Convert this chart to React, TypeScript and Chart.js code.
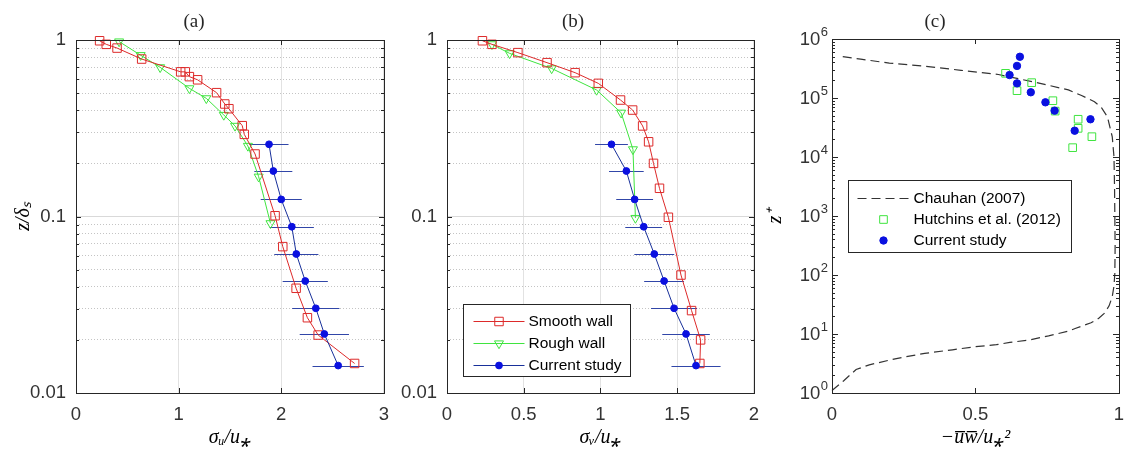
import React, { useEffect, useRef } from "react";
import { Chart, registerables } from "chart.js";

Chart.register(...registerables);

// ---------- Panel (a): sigma_u / u* ----------
const smoothAX = [0.23, 0.295, 0.40, 0.64, 1.02, 1.065, 1.105, 1.185, 1.37, 1.45, 1.49, 1.62, 1.64, 1.745, 1.94, 2.015, 2.145, 2.255, 2.36, 2.715];
const smoothAZ = [0.99, 0.945, 0.90, 0.78, 0.66, 0.66, 0.62, 0.595, 0.503, 0.434, 0.408, 0.327, 0.292, 0.226, 0.101, 0.0675, 0.0392, 0.0267, 0.0213, 0.0147];
const roughAX = [0.42, 0.63, 0.82, 1.105, 1.27, 1.44, 1.55, 1.675, 1.78, 1.895];
const roughAZ = [0.98, 0.82, 0.70, 0.532, 0.467, 0.376, 0.326, 0.251, 0.168, 0.0915];
const currentZ = [0.2565, 0.181, 0.125, 0.0875, 0.0613, 0.0431, 0.0302, 0.0216, 0.0143];
const currentAX = [1.881, 1.923, 2.0, 2.103, 2.147, 2.234, 2.337, 2.42, 2.555];
const currentAErr = [0.19, 0.185, 0.2, 0.215, 0.215, 0.22, 0.23, 0.24, 0.25];

// ---------- Panel (b): sigma_v / u* ----------
const smoothBX = [0.231, 0.293, 0.462, 0.652, 0.835, 0.986, 1.131, 1.21, 1.275, 1.314, 1.346, 1.385, 1.443, 1.525, 1.594, 1.653, 1.648];
const smoothBZ = [0.99, 0.945, 0.848, 0.744, 0.653, 0.568, 0.457, 0.401, 0.326, 0.265, 0.2, 0.1445, 0.099, 0.0466, 0.0293, 0.02, 0.0147];
const roughBX = [0.293, 0.408, 0.682, 0.975, 1.135, 1.212, 1.228];
const roughBZ = [0.945, 0.84, 0.69, 0.521, 0.387, 0.24, 0.098];
const currentBX = [1.072, 1.169, 1.223, 1.282, 1.351, 1.415, 1.48, 1.558, 1.623];
const currentBErr = [0.107, 0.113, 0.12, 0.12, 0.13, 0.13, 0.15, 0.155, 0.16];

// ---------- Panel (c): -uw / u*^2 ----------
const chauhanX = [0.0, 0.04, 0.084, 0.13, 0.22, 0.323, 0.42, 0.5, 0.573, 0.62, 0.687, 0.755, 0.824, 0.85, 0.903, 0.93, 0.949, 0.966, 0.977, 0.983, 0.986, 0.987, 0.986, 0.985, 0.983, 0.977, 0.96, 0.94, 0.915, 0.87, 0.824, 0.76, 0.699, 0.58, 0.45, 0.312, 0.2, 0.1, 0.03];
const chauhanZ = [1.1, 1.6, 2.5, 3.0, 3.8, 4.7, 5.4, 6.1, 6.6, 7.2, 7.9, 9.3, 11.2, 12.5, 15.5, 18.5, 22.4, 30, 43, 65, 107, 300, 1000, 3000, 1.01e4, 2.2e4, 4.82e4, 6.8e4, 8.65e4, 1.1e5, 1.37e5, 1.62e5, 1.89e5, 2.5e5, 2.95e5, 3.5e5, 3.9e5, 4.55e5, 5.1e5];
const hutchinsX = [0.605, 0.645, 0.696, 0.770, 0.778, 0.858, 0.858, 0.906, 0.839];
const hutchinsZ = [2.62e5, 1.33e5, 1.82e5, 9.0e4, 6.0e4, 4.36e4, 3.06e4, 2.21e4, 1.44e4];
const currentCX = [0.655, 0.645, 0.619, 0.645, 0.693, 0.744, 0.776, 0.846, 0.901];
const currentCZ = [5.0e5, 3.5e5, 2.45e5, 1.77e5, 1.25e5, 8.45e4, 6.1e4, 2.79e4, 4.36e4];

// ---------- Ticks ----------
const xTicksA = [0, 1, 2, 3];
const xLabelsA = ["0", "1", "2", "3"];
const xTicksB = [0, 0.5, 1, 1.5, 2];
const xLabelsB = ["0", "0.5", "1", "1.5", "2"];
const xTicksC = [0, 0.5, 1];
const xLabelsC = ["0", "0.5", "1"];
const yTicksAB = [0.01, 0.1, 1];
const yLabelsAB = ["0.01", "0.1", "1"];
const yTicksC = [1, 10, 100, 1000, 1e4, 1e5, 1e6];
const yBaseC = "10";
const yExpC = ["0", "1", "2", "3", "4", "5", "6"];

const SANS = '"Liberation Sans", Arial, Helvetica, sans-serif';
const SERIF = '"Liberation Serif", "Times New Roman", serif';
const INK = "#262626";
const TICK_INK = "#333333";
const RED = "#dd2a2a";
const GREEN = "#3fe43f";
const BLUE_LINE = "#18309a";
const BLUE_DOT = "#0a10e0";
const ERR = "#3146a8";
const TICK_SIZE = 18.5;

const isDecade = (v: number) => Math.abs(Math.log10(v) - Math.round(Math.log10(v))) < 1e-6;
const logTickValues = (min: number, max: number) => {
  const out: number[] = [];
  const e0 = Math.round(Math.log10(min));
  const e1 = Math.round(Math.log10(max));
  for (let e = e0; e < e1; e++) {
    for (let s = 1; s < 10; s++) out.push(s * Math.pow(10, e));
  }
  out.push(max);
  return out;
};
const findTick = (vals: number[], v: number) =>
  vals.findIndex((t) => Math.abs(t - v) <= 1e-6 * Math.max(Math.abs(t), 1e-9));
const labelFor = (vals: number[], labels: string[]) => (v: number) => {
  const i = findTick(vals, v);
  return i >= 0 ? labels[i] : "";
};
const pts = (xs: number[], ys: number[]) => xs.map((x, i) => ({ x, y: ys[i] }));

// ---------- Plugins ----------
const errorBarPlugin = {
  id: "errorBars",
  beforeDatasetsDraw(chart: any) {
    const { ctx, scales } = chart;
    const xs = scales.x, ys = scales.y;
    chart.data.datasets.forEach((ds: any) => {
      if (!ds.errX) return;
      ctx.save();
      ctx.strokeStyle = ds.errColor || ERR;
      ctx.lineWidth = 1.2;
      ctx.beginPath();
      ds.data.forEach((p: any, i: number) => {
        const py = Math.round(ys.getPixelForValue(p.y)) + 0.5;
        ctx.moveTo(xs.getPixelForValue(p.x - ds.errX[i]), py);
        ctx.lineTo(xs.getPixelForValue(p.x + ds.errX[i]), py);
      });
      ctx.stroke();
      ctx.restore();
    });
  },
};

const framePlugin = {
  id: "frame",
  afterDatasetsDraw(chart: any, _args: any, opts: any) {
    const { ctx, chartArea: a, scales } = chart;
    const xs = scales.x, ys = scales.y;
    const L = Math.round(a.left), T = Math.round(a.top), R = Math.round(a.right), B = Math.round(a.bottom);
    ctx.save();
    ctx.strokeStyle = INK;
    ctx.lineWidth = 1;
    ctx.beginPath();
    const xl = opts.xLen ?? 5;
    for (const t of xs.ticks) {
      const px = Math.round(xs.getPixelForValue(t.value)) + 0.5;
      ctx.moveTo(px, B); ctx.lineTo(px, B - xl);
      ctx.moveTo(px, T); ctx.lineTo(px, T + xl);
    }
    for (const t of ys.ticks) {
      const py = Math.round(ys.getPixelForValue(t.value)) + 0.5;
      const len = isDecade(t.value) ? (opts.yMajor ?? 5) : (opts.yMinor ?? 3);
      ctx.moveTo(L, py); ctx.lineTo(L + len, py);
      ctx.moveTo(R, py); ctx.lineTo(R - len, py);
    }
    ctx.stroke();
    ctx.strokeRect(L + 0.5, T + 0.5, R - L, B - T);
    ctx.restore();
  },
};

// draws y tick labels of the form 10^n next to the library's y scale
const powerLabelPlugin = {
  id: "powerLabels",
  afterDraw(chart: any, _args: any, opts: any) {
    if (!opts || !opts.values) return;
    const { ctx, chartArea: a, scales } = chart;
    const ys = scales.y;
    ctx.save();
    ctx.fillStyle = TICK_INK;
    ctx.textBaseline = "middle";
    ctx.textAlign = "right";
    opts.values.forEach((v: number, i: number) => {
      const py = ys.getPixelForValue(v);
      const xr = a.left - opts.pad;
      ctx.font = `${opts.expSize}px ${SANS}`;
      const ew = ctx.measureText(opts.exps[i]).width;
      ctx.fillText(opts.exps[i], xr, py - opts.raise);
      ctx.font = `${TICK_SIZE}px ${SANS}`;
      ctx.fillText(opts.base, xr - ew - 0.5, py + 1);
    });
    ctx.restore();
  },
};

function drawMarker(ctx: any, ds: any, x: number, y: number) {
  const r = ds.pointRadius;
  ctx.save();
  ctx.setLineDash([]);
  ctx.lineWidth = ds.pointBorderWidth ?? 1;
  ctx.strokeStyle = ds.pointBorderColor;
  ctx.fillStyle = ds.pointBackgroundColor;
  ctx.beginPath();
  if (ds.pointStyle === "rect") {
    const h = r * Math.SQRT1_2;
    ctx.rect(x - h, y - h, 2 * h, 2 * h);
  } else if (ds.pointStyle === "triangle") {
    let rad = ((ds.pointRotation || 0) * Math.PI) / 180;
    ctx.moveTo(x + Math.sin(rad) * r, y - Math.cos(rad) * r);
    rad += (2 * Math.PI) / 3;
    ctx.lineTo(x + Math.sin(rad) * r, y - Math.cos(rad) * r);
    rad += (2 * Math.PI) / 3;
    ctx.lineTo(x + Math.sin(rad) * r, y - Math.cos(rad) * r);
    ctx.closePath();
  } else {
    ctx.arc(x, y, r, 0, Math.PI * 2);
  }
  ctx.fill();
  ctx.stroke();
  ctx.restore();
}

const boxLegendPlugin = {
  id: "boxLegend",
  afterDraw(chart: any, _args: any, opts: any) {
    if (!opts || !opts.items) return;
    const { ctx, chartArea: a } = chart;
    const bx = Math.round(a.left + opts.dx) + 0.5;
    const by = Math.round(a.top + opts.dy) + 0.5;
    ctx.save();
    ctx.fillStyle = "#ffffff";
    ctx.fillRect(bx, by, opts.w, opts.h);
    ctx.strokeStyle = INK;
    ctx.lineWidth = 1;
    ctx.strokeRect(bx, by, opts.w, opts.h);
    ctx.font = opts.font;
    ctx.textBaseline = "middle";
    opts.items.forEach((it: any, i: number) => {
      const ds = chart.data.datasets[it.dataset];
      const cy = Math.round(by + opts.rows[i]) + 0.5;
      if (it.line) {
        ctx.save();
        ctx.strokeStyle = ds.borderColor;
        ctx.lineWidth = ds.borderWidth;
        ctx.setLineDash(ds.borderDash || []);
        ctx.beginPath();
        ctx.moveTo(bx + opts.lineX0, cy);
        ctx.lineTo(bx + opts.lineX1, cy);
        ctx.stroke();
        ctx.restore();
      }
      if (it.marker) drawMarker(ctx, ds, bx + opts.markX, cy);
      ctx.fillStyle = "#000000";
      ctx.fillText(ds.label, bx + opts.textX, cy + 0.5);
    });
    ctx.restore();
  },
};

// ---------- Config builders ----------
function xScale(p: any) {
  return {
    type: "linear",
    min: p.min,
    max: p.max,
    afterBuildTicks: (s: any) => {
      s.ticks = p.ticks.map((v: number) => ({ value: v }));
    },
    afterFit: (s: any) => {
      s.height = 60;
    },
    ticks: {
      autoSkip: false,
      maxRotation: 0,
      padding: 11,
      color: TICK_INK,
      font: { family: SANS, size: TICK_SIZE },
      callback: (v: number) => labelFor(p.ticks, p.labels)(v),
    },
    grid: { display: p.grid, color: "#e2e2e2", lineWidth: 1, drawTicks: false },
    border: { display: false },
    title: {
      display: true,
      text: p.title,
      color: "#000",
      font: { family: SERIF, size: 20, style: "italic" },
      padding: { top: 0, bottom: 3 },
    },
  };
}

function yScale(p: any) {
  return {
    type: "logarithmic",
    min: p.min,
    max: p.max,
    afterBuildTicks: (s: any) => {
      s.ticks = logTickValues(p.min, p.max).map((v) => ({ value: v, major: isDecade(v) }));
    },
    afterFit: (s: any) => {
      s.width = p.width;
    },
    ticks: {
      autoSkip: false,
      padding: p.tickPad,
      color: TICK_INK,
      font: { family: SANS, size: TICK_SIZE },
      callback: (v: number) => (p.labels ? labelFor(p.ticks, p.labels)(v) : ""),
    },
    grid: {
      display: p.grid,
      drawTicks: false,
      lineWidth: 1,
      color: (c: any) => (c.tick && isDecade(c.tick.value) ? "#d9d9d9" : "#c4c4c4"),
    },
    border: {
      display: false,
      dash: (c: any) => (c.tick && !isDecade(c.tick.value) ? [1, 2] : []),
    },
    title: {
      display: !!p.title,
      text: p.title || "",
      color: "#000",
      font: { family: SERIF, size: 20, style: "italic" },
      padding: { top: p.titlePad || 0, bottom: 0 },
    },
  };
}

function lineDs(label: string, xs: number[], ys: number[], style: any) {
  return {
    label,
    data: pts(xs, ys),
    showLine: true,
    borderWidth: 1,
    clip: false,
    pointBorderWidth: 1,
    ...style,
  };
}

function panelABConfig(which: "a" | "b") {
  const isA = which === "a";
  const datasets: any[] = [
    lineDs("Smooth wall", isA ? smoothAX : smoothBX, isA ? smoothAZ : smoothBZ, {
      borderColor: RED,
      pointStyle: "rect",
      pointRadius: 6,
      pointBorderColor: RED,
      pointBackgroundColor: "rgba(0,0,0,0)",
      order: 1,
    }),
    lineDs("Rough wall", isA ? roughAX : roughBX, isA ? roughAZ : roughBZ, {
      borderColor: GREEN,
      pointStyle: "triangle",
      pointRotation: 180,
      pointRadius: 5.2,
      pointBorderColor: GREEN,
      pointBackgroundColor: "rgba(0,0,0,0)",
      order: 2,
    }),
    lineDs("Current study", isA ? currentAX : currentBX, currentZ, {
      borderColor: BLUE_LINE,
      pointStyle: "circle",
      pointRadius: 3.4,
      pointBorderColor: BLUE_DOT,
      pointBackgroundColor: BLUE_DOT,
      errX: isA ? currentAErr : currentBErr,
      errColor: ERR,
      order: 0,
    }),
  ];
  return {
    type: "scatter",
    data: { datasets },
    options: {
      responsive: false,
      animation: false,
      events: [],
      layout: { padding: { left: 0, right: isA ? 12 : 14, top: 0, bottom: 0 } },
      plugins: {
        legend: { display: false },
        tooltip: { enabled: false },
        title: {
          display: true,
          text: isA ? "(a)" : "(b)",
          color: INK,
          font: { family: SERIF, size: 19, weight: "normal" },
          padding: { top: 10.6, bottom: 6.6 },
        },
        frame: { xLen: 5, yMajor: 5, yMinor: 3 },
        powerLabels: {},
        boxLegend: isA
          ? {}
          : {
              dx: 16,
              dy: 264,
              w: 167,
              h: 72,
              rows: [16, 38.5, 60.5],
              lineX0: 10,
              lineX1: 61,
              markX: 35.5,
              textX: 65,
              font: `15.5px ${SANS}`,
              items: [
                { dataset: 0, line: true, marker: true },
                { dataset: 1, line: true, marker: true },
                { dataset: 2, line: true, marker: true },
              ],
            },
      },
      scales: {
        x: xScale({
          min: 0,
          max: isA ? 3 : 2,
          ticks: isA ? xTicksA : xTicksB,
          labels: isA ? xLabelsA : xLabelsB,
          grid: true,
          title: isA ? "σᵤ/u⁎" : "σᵥ/u⁎",
        }),
        y: yScale({
          min: 0.01,
          max: 1,
          ticks: yTicksAB,
          labels: yLabelsAB,
          width: isA ? 76 : 57,
          tickPad: 10,
          grid: true,
          title: isA ? "z/δₛ" : "",
          titlePad: 12,
        }),
      },
    },
    plugins: [errorBarPlugin, framePlugin, boxLegendPlugin, powerLabelPlugin],
  };
}

function panelCConfig() {
  const datasets: any[] = [
    lineDs("Chauhan (2007)", chauhanX, chauhanZ, {
      borderColor: "#333333",
      borderWidth: 1.2,
      borderDash: [9, 5],
      pointRadius: 0,
      pointStyle: "circle",
      order: 2,
    }),
    {
      label: "Hutchins et al. (2012)",
      data: pts(hutchinsX, hutchinsZ),
      showLine: false,
      clip: false,
      pointStyle: "rect",
      pointRadius: 5.4,
      pointBorderWidth: 1,
      pointBorderColor: GREEN,
      pointBackgroundColor: "rgba(0,0,0,0)",
      borderColor: GREEN,
      order: 1,
    },
    {
      label: "Current study",
      data: pts(currentCX, currentCZ),
      showLine: false,
      clip: false,
      pointStyle: "circle",
      pointRadius: 3.7,
      pointBorderWidth: 1,
      pointBorderColor: BLUE_DOT,
      pointBackgroundColor: BLUE_DOT,
      borderColor: BLUE_DOT,
      order: 0,
    },
  ];
  return {
    type: "scatter",
    data: { datasets },
    options: {
      responsive: false,
      animation: false,
      events: [],
      layout: { padding: { left: 0, right: 10, top: 0, bottom: 0 } },
      plugins: {
        legend: { display: false },
        tooltip: { enabled: false },
        title: {
          display: true,
          text: "(c)",
          color: INK,
          font: { family: SERIF, size: 19, weight: "normal" },
          padding: { top: 10.6, bottom: 5.6 },
        },
        frame: { xLen: 5, yMajor: 6, yMinor: 3 },
        powerLabels: { values: yTicksC, base: yBaseC, exps: yExpC, expSize: 13, raise: 7, pad: 4 },
        boxLegend: {
          dx: 16,
          dy: 141,
          w: 223,
          h: 72,
          rows: [17, 38, 59.5],
          lineX0: 9,
          lineX1: 60,
          markX: 35,
          textX: 65,
          font: `15.5px ${SANS}`,
          items: [
            { dataset: 0, line: true, marker: false },
            { dataset: 1, line: false, marker: true },
            { dataset: 2, line: false, marker: true },
          ],
        },
      },
      scales: {
        x: xScale({
          min: 0,
          max: 1,
          ticks: xTicksC,
          labels: xLabelsC,
          grid: false,
          title: "−u̅w̅/u⁎²",
        }),
        y: yScale({
          min: 1,
          max: 1e6,
          ticks: yTicksC,
          labels: null,
          width: 87,
          tickPad: 4,
          grid: false,
          title: "z⁺",
          titlePad: 19,
        }),
      },
    },
    plugins: [errorBarPlugin, framePlugin, boxLegendPlugin, powerLabelPlugin],
  };
}

export default function App() {
  const refA = useRef<HTMLCanvasElement>(null);
  const refB = useRef<HTMLCanvasElement>(null);
  const refC = useRef<HTMLCanvasElement>(null);

  useEffect(() => {
    const charts: Chart[] = [];
    if (refA.current) charts.push(new Chart(refA.current, panelABConfig("a") as any));
    if (refB.current) charts.push(new Chart(refB.current, panelABConfig("b") as any));
    if (refC.current) charts.push(new Chart(refC.current, panelCConfig() as any));
    return () => charts.forEach((c) => c.destroy());
  }, []);

  return (
    <div
      style={{
        position: "fixed",
        left: 0,
        top: 0,
        width: 1127,
        height: 453,
        overflow: "hidden",
        background: "#ffffff",
      }}
    >
      <canvas ref={refA} width={400} height={453} style={{ position: "absolute", left: 0, top: 0 }} />
      <canvas ref={refB} width={380} height={453} style={{ position: "absolute", left: 390, top: 0 }} />
      <canvas ref={refC} width={390} height={453} style={{ position: "absolute", left: 745, top: 0 }} />
    </div>
  );
}
